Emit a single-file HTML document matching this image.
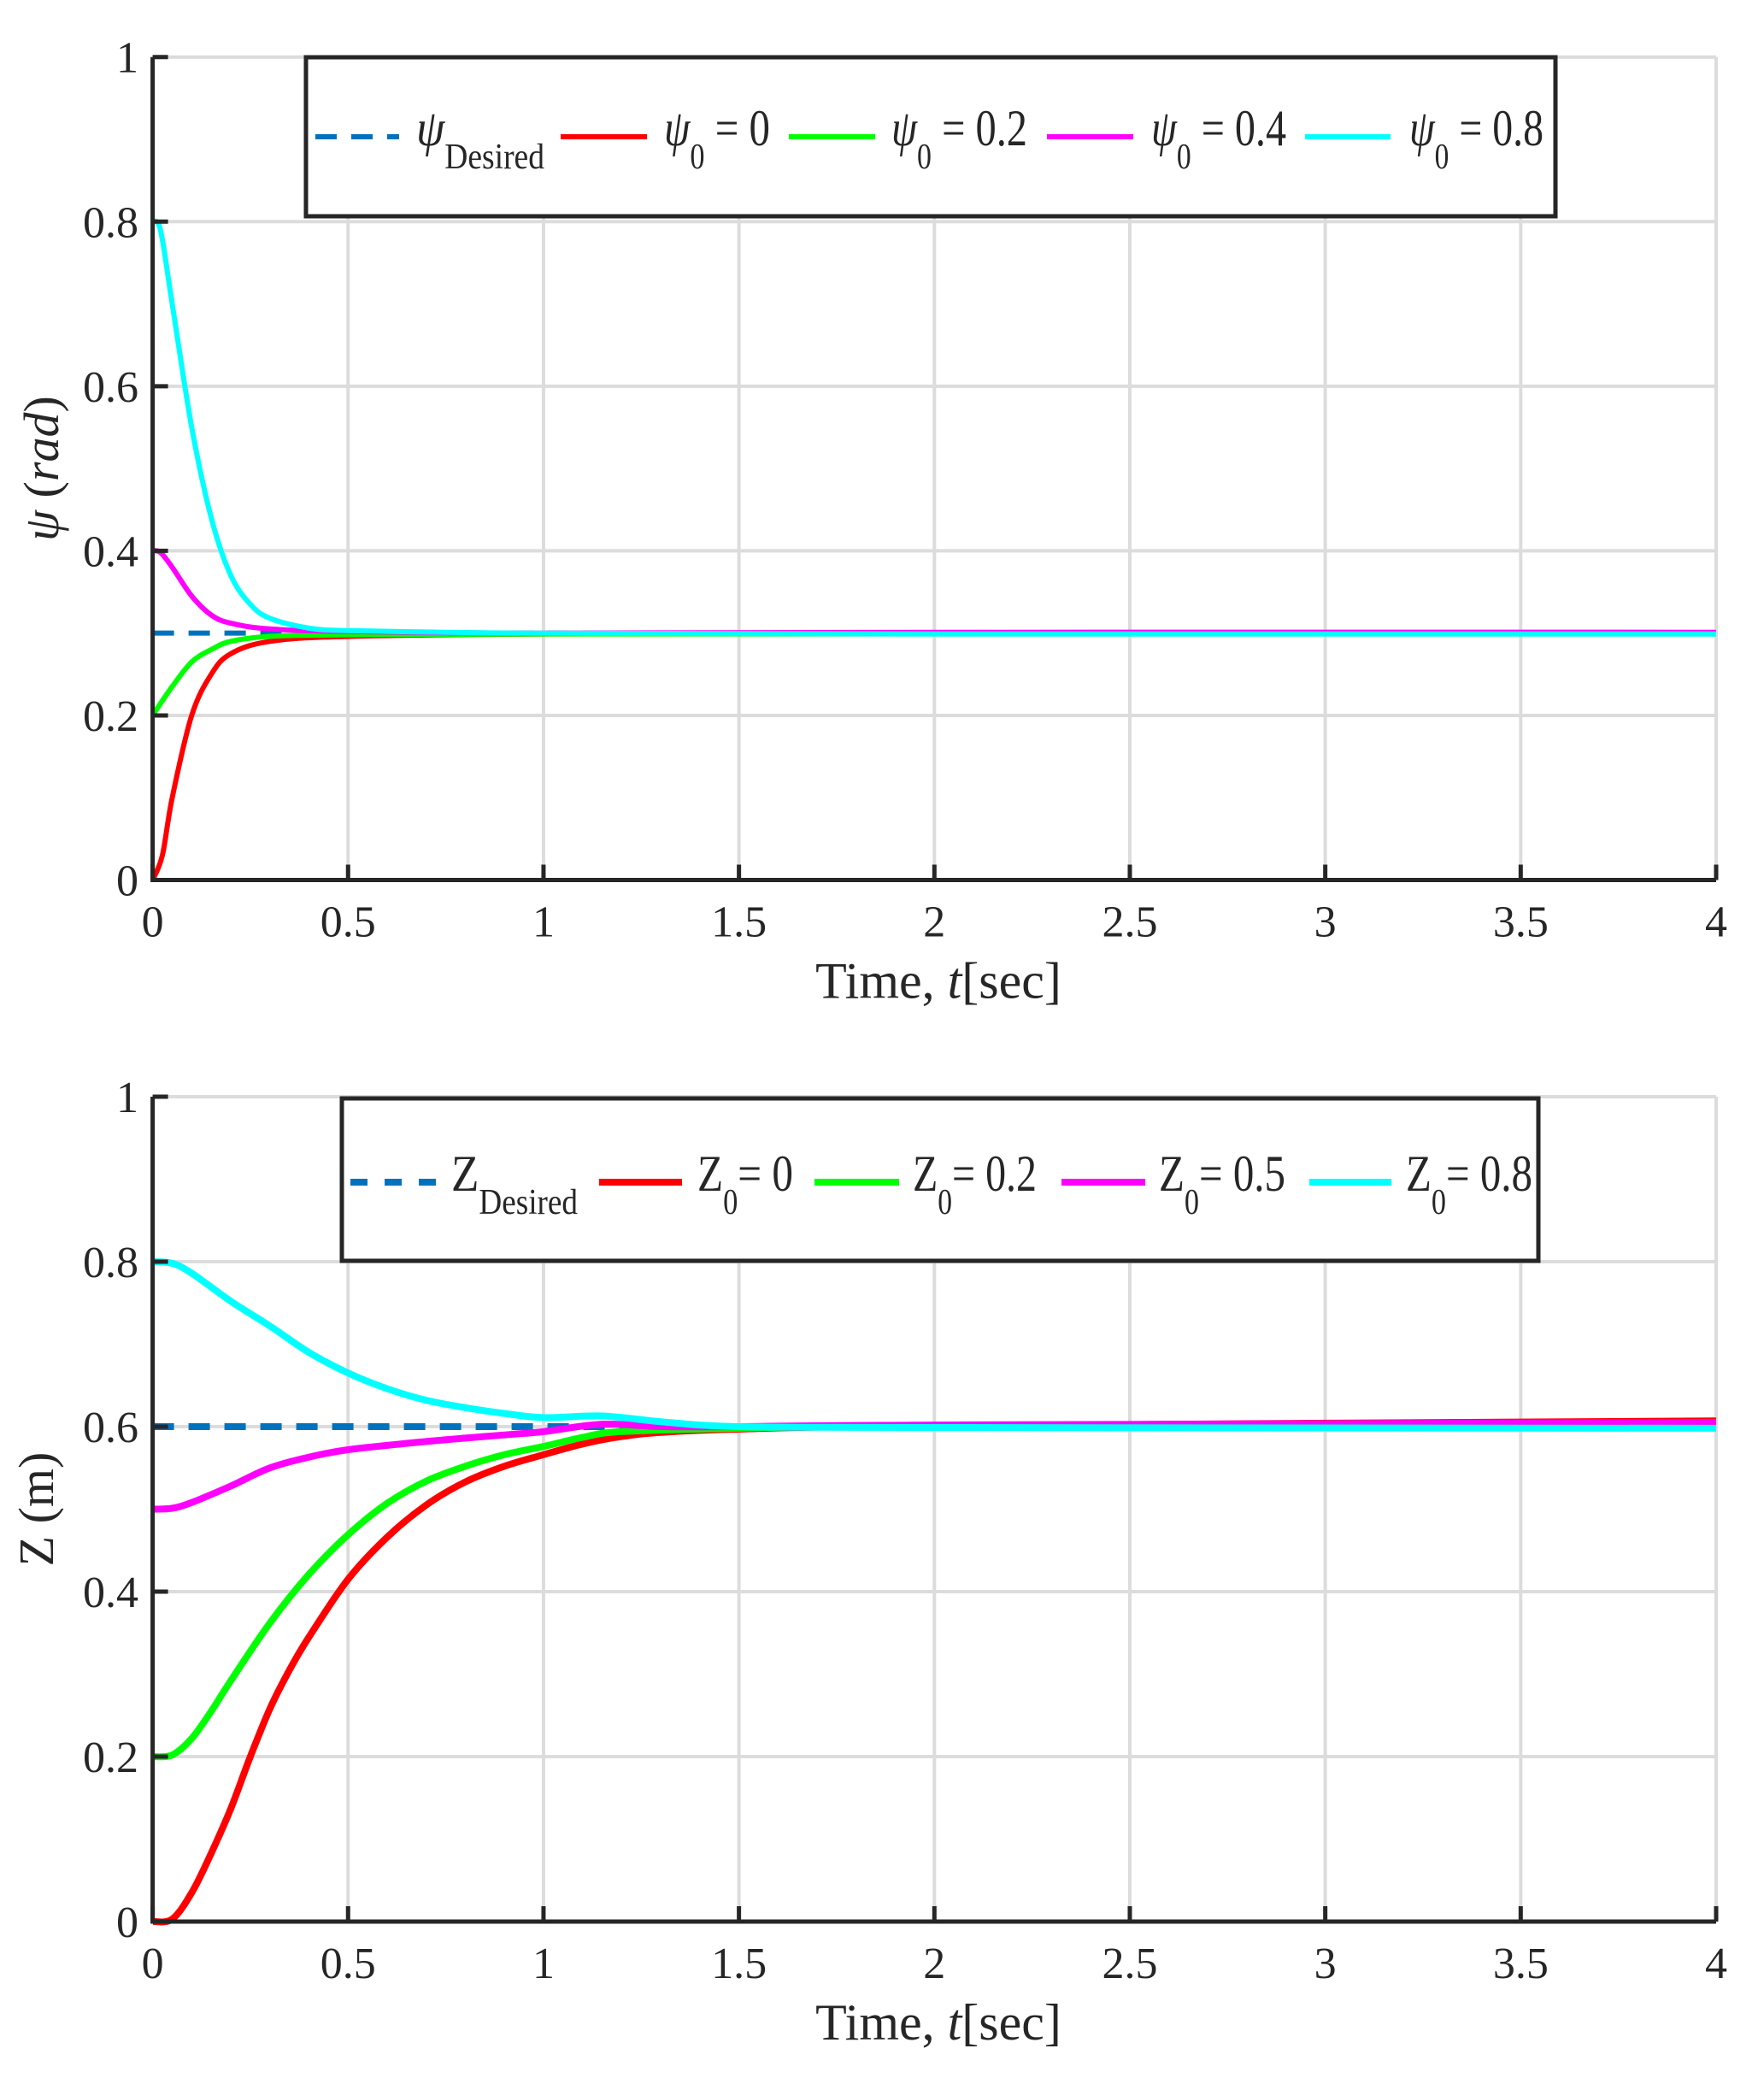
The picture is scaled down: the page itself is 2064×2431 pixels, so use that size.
<!DOCTYPE html>
<html><head><meta charset="utf-8"><style>
html,body{margin:0;padding:0;background:#fff}
svg{display:block}
text{font-family:"Liberation Serif","DejaVu Serif",serif;fill:#262626}
</style></head><body>
<svg id="chart" width="2064" height="2431" viewBox="0 0 2064 2431" xmlns="http://www.w3.org/2000/svg">
<g id="p1"></g>
<g id="p2"></g>
</svg>
<script>
// ---- data: top plot (psi) ----
const tTicks = [0,0.5,1,1.5,2,2.5,3,3.5,4];
const tTickLabels = ["0","0.5","1","1.5","2","2.5","3","3.5","4"];
const yTicks = [0,0.2,0.4,0.6,0.8,1];
const yTickLabels = ["0","0.2","0.4","0.6","0.8","1"];
const psiDesired = 0.3;
const psiT0 = [0,0.025,0.05,0.1,0.15,0.2,0.3,0.5,1,2,4];
const psiRed = [0,0.03,0.1,0.2,0.25,0.275,0.29,0.296,0.299,0.3,0.3];
const psiT1 = [0,0.05,0.1,0.15,0.2,0.3,0.5,1,2,4];
const psiGreen = [0.2,0.235,0.265,0.28,0.29,0.296,0.298,0.299,0.299,0.299];
const psiT2 = [0,0.02,0.05,0.1,0.15,0.2,0.3,0.5,1,2,4];
const psiMagenta = [0.4,0.398,0.38,0.345,0.322,0.312,0.305,0.302,0.3,0.301,0.301];
const psiT3 = [0,0.02,0.05,0.1,0.15,0.2,0.25,0.3,0.4,0.5,0.75,1,2,4];
const psiCyan = [0.8,0.79,0.7,0.55,0.44,0.37,0.335,0.318,0.306,0.303,0.301,0.3,0.299,0.299];
// ---- data: bottom plot (Z) ----
const zDesired = 0.6;
const zTRed = [0,0.05,0.1,0.15,0.2,0.25,0.3,0.35,0.4,0.5,0.6,0.7,0.8,0.9,1.0,1.1,1.2,1.3,1.5,2,4];
const zRed = [0,0.003,0.035,0.083,0.137,0.2,0.258,0.305,0.345,0.415,0.466,0.505,0.533,0.552,0.566,0.579,0.588,0.593,0.597,0.601,0.607];
const zTGreen = [0,0.05,0.1,0.15,0.2,0.3,0.4,0.5,0.6,0.7,0.8,0.9,1.0,1.1,1.2,1.5,2,4];
const zGreen = [0.2,0.202,0.222,0.255,0.292,0.362,0.421,0.469,0.507,0.534,0.552,0.566,0.576,0.587,0.594,0.598,0.601,0.605];
const zTMag = [0,0.05,0.1,0.2,0.3,0.4,0.5,0.7,0.9,1.0,1.15,1.3,1.5,2,4];
const zMagenta = [0.5,0.501,0.508,0.528,0.55,0.563,0.572,0.582,0.59,0.594,0.603,0.6,0.6,0.602,0.605];
const zTCyan = [0,0.05,0.1,0.2,0.3,0.4,0.5,0.6,0.7,0.8,0.9,1,1.15,1.3,1.5,2,4];
const zCyan = [0.8,0.798,0.786,0.752,0.722,0.69,0.665,0.646,0.632,0.623,0.616,0.611,0.613,0.606,0.6,0.599,0.598];

const NS="http://www.w3.org/2000/svg";
function mk(parent,tag,attrs,txt){const e=document.createElementNS(NS,tag);for(const k in attrs)e.setAttribute(k,attrs[k]);if(txt!==undefined)e.textContent=txt;parent.appendChild(e);return e;}
const X0=178.6, X1=2008;
function xs(t){return X0+(X1-X0)*t/4;}
function smooth(pts){let d="M"+pts[0][0].toFixed(1)+","+pts[0][1].toFixed(1);
 for(let i=0;i<pts.length-1;i++){const p0=pts[Math.max(0,i-1)],p1=pts[i],p2=pts[i+1],p3=pts[Math.min(pts.length-1,i+2)];
  const c1x=p1[0]+(p2[0]-p0[0])/6,c1y=p1[1]+(p2[1]-p0[1])/6,c2x=p2[0]-(p3[0]-p1[0])/6,c2y=p2[1]-(p3[1]-p1[1])/6;
  d+=` C${c1x.toFixed(1)},${c1y.toFixed(1)} ${c2x.toFixed(1)},${c2y.toFixed(1)} ${p2[0].toFixed(1)},${p2[1].toFixed(1)}`;}
 return d;}

function drawPlot(g,Y0,Y1,series,desired,lw,ylabel,legend,prefix){
 const ys=v=>Y0+(Y1-Y0)*v;
 tTicks.forEach((t,i)=>{if(i>0){const l=mk(g,"line",{x1:xs(t),x2:xs(t),y1:ys(0),y2:ys(1),stroke:"#dcdcdc","stroke-width":4});
  
  }});
 yTicks.forEach((v,i)=>{if(i>0){const l=mk(g,"line",{x1:X0,x2:X1,y1:ys(v),y2:ys(v),stroke:"#dcdcdc","stroke-width":4});
  
  }});
 const d=mk(g,"line",{x1:xs(0),x2:xs(4),y1:ys(desired),y2:ys(desired),stroke:"#0072bd","stroke-width":lw,"stroke-dasharray":"25 17"});
 
 
 series.forEach(s=>{const pts=s.t.map((t,i)=>[xs(t),ys(s.v[i])]);
  const p=mk(g,"path",{d:smooth(pts),fill:"none",stroke:s.c,"stroke-width":lw,"stroke-linejoin":"round"});
  
  });
 const ax=mk(g,"path",{d:`M${X0},${ys(1)} V${ys(0)} H${X1}`,fill:"none",stroke:"#262626","stroke-width":5});
 
 
 tTicks.forEach((t,i)=>{mk(g,"line",{x1:xs(t),x2:xs(t),y1:ys(0),y2:ys(0)-18,stroke:"#262626","stroke-width":5});
  const tx=mk(g,"text",{x:xs(t),y:ys(0)+66,"text-anchor":"middle","font-size":52},tTickLabels[i]);
  
  });
 yTicks.forEach((v,i)=>{mk(g,"line",{x1:X0,x2:X0+18,y1:ys(v),y2:ys(v),stroke:"#262626","stroke-width":5});
  const tx=mk(g,"text",{x:162,y:ys(v)+18,"text-anchor":"end","font-size":52},yTickLabels[i]);
  
  });
 const xt=mk(g,"text",{x:1098,y:ys(0)+138,"text-anchor":"middle","font-size":60});
 
 
 xt.innerHTML='Time, <tspan font-style="italic">t</tspan>[sec]';
 const yc=(ys(0)+ys(1))/2;
 const yt=mk(g,"text",{x:0,y:0,"text-anchor":"middle","font-size":58,transform:`translate(${ylabel.x},${yc}) rotate(-90)`});
 
 
 yt.innerHTML=ylabel.html;
 const L=legend;
 const box=mk(g,"rect",{x:L.x,y:L.y,width:L.w,height:L.h,fill:"#fff",stroke:"#262626","stroke-width":5});
 
 
 L.items.forEach(it=>{
  const ln=mk(g,"line",{x1:it.l0,x2:it.l1,y1:L.ly,y2:L.ly,stroke:it.c,"stroke-width":lw,"stroke-dasharray":it.dash||"none"});
  
  
  const tx=mk(g,"text",{x:it.tx,y:L.ly+10,"font-size":60,fill:"#000",textLength:it.tw,lengthAdjust:"spacingAndGlyphs"});
  
  
  tx.innerHTML=it.html;
 });
}

drawPlot(document.getElementById('p1'),1029.5,66.7,[
 {t:psiT0,v:psiRed,c:"#ff0000",name:"psi0-0-line"},
 {t:psiT1,v:psiGreen,c:"#00ff00",name:"psi0-0.2-line"},
 {t:psiT2,v:psiMagenta,c:"#ff00ff",name:"psi0-0.4-line"},
 {t:psiT3,v:psiCyan,c:"#00ffff",name:"psi0-0.8-line"}],psiDesired,6,
 {x:68,html:'<tspan font-style="italic">ψ</tspan> (<tspan font-style="italic">rad</tspan>)'},
 {x:358,y:67,w:1462,h:186,ly:160,items:[
  {l0:369,l1:467,c:"#0072bd",dash:"25 17",tx:487,tw:150,html:'<tspan font-style="italic">ψ</tspan><tspan font-size="42" dy="27">Desired</tspan>'},
  {l0:656,l1:757,c:"#ff0000",tx:777,tw:124,html:'<tspan font-style="italic">ψ</tspan><tspan font-size="42" dy="27">0</tspan><tspan dy="-27"> = 0</tspan>'},
  {l0:923,l1:1024,c:"#00ff00",tx:1043,tw:159,html:'<tspan font-style="italic">ψ</tspan><tspan font-size="42" dy="27">0</tspan><tspan dy="-27"> = 0.2</tspan>'},
  {l0:1225,l1:1326,c:"#ff00ff",tx:1347,tw:158,html:'<tspan font-style="italic">ψ</tspan><tspan font-size="42" dy="27">0</tspan><tspan dy="-27"> = 0.4</tspan>'},
  {l0:1527,l1:1627,c:"#00ffff",tx:1649,tw:157,html:'<tspan font-style="italic">ψ</tspan><tspan font-size="42" dy="27">0</tspan><tspan dy="-27"> = 0.8</tspan>'}]},"psi");

drawPlot(document.getElementById('p2'),2248,1283,[
 {t:zTRed,v:zRed,c:"#ff0000",name:"z0-0-line"},
 {t:zTGreen,v:zGreen,c:"#00ff00",name:"z0-0.2-line"},
 {t:zTMag,v:zMagenta,c:"#ff00ff",name:"z0-0.5-line"},
 {t:zTCyan,v:zCyan,c:"#00ffff",name:"z0-0.8-line"}],zDesired,8,
 {x:62,html:'Z (m)'},
 {x:400,y:1285,w:1400,h:190,ly:1383,items:[
  {l0:410,l1:511,c:"#0072bd",dash:"20 20",tx:528,tw:148,html:'Z<tspan font-size="42" dy="27">Desired</tspan>'},
  {l0:701,l1:798,c:"#ff0000",tx:816,tw:112,html:'Z<tspan font-size="42" dy="27">0</tspan><tspan dy="-27">= 0</tspan>'},
  {l0:953,l1:1052,c:"#00ff00",tx:1068,tw:145,html:'Z<tspan font-size="42" dy="27">0</tspan><tspan dy="-27">= 0.2</tspan>'},
  {l0:1242,l1:1340,c:"#ff00ff",tx:1356,tw:148,html:'Z<tspan font-size="42" dy="27">0</tspan><tspan dy="-27">= 0.5</tspan>'},
  {l0:1532,l1:1628,c:"#00ffff",tx:1645,tw:148,html:'Z<tspan font-size="42" dy="27">0</tspan><tspan dy="-27">= 0.8</tspan>'}]},"z");
</script>
</body></html>
